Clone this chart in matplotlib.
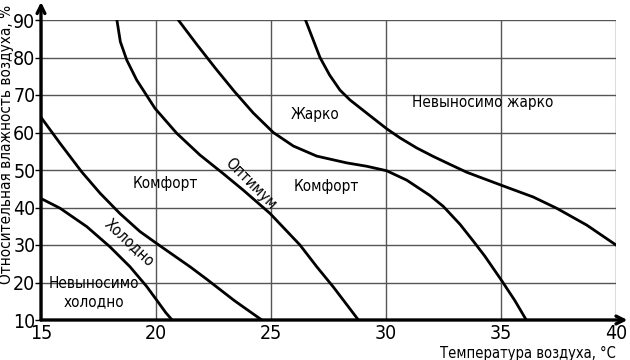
import matplotlib
matplotlib.use('Agg')
import matplotlib.pyplot as plt

plt.rcParams['font.family'] = ['DejaVu Sans']
plt.rcParams['font.stretch'] = 'condensed'

# border "unbearable cold" / "cold"
cold1_t = [15, 15.83, 16.99, 18.0, 18.87, 19.6, 20.03, 20.42, 20.7]
cold1_h = [42.4, 39.8, 34.9, 29.5, 24.2, 18.9, 15.3, 12.0, 10]

# border "cold" / "comfort"
cold2_t = [15.03, 15.83, 16.77, 17.57, 18.43, 19.3, 20.03, 21.48, 22.2, 23.4, 24.6]
cold2_h = [63.8, 57.1, 49.5, 43.8, 38.4, 33.6, 30.4, 24.2, 20.9, 15.2, 10]

# optimum line
opt_t = [18.3, 18.45, 18.73, 19.16, 19.96, 20.9, 21.91, 22.93, 23.8, 24.96,
         26.26, 26.99, 27.71, 28.43, 28.8]
opt_h = [90, 84.2, 79.3, 74, 66.4, 59.8, 54, 49.0, 44.6, 38.4,
         30, 24.2, 18.8, 13.0, 10]

# border "comfort" / "hot"
hot1_t = [20.97, 21.77, 22.6, 23.4, 24.23, 25.1, 25.97, 26.99, 28.29, 29.16,
          30.03, 30.9, 31.91, 32.49, 33.22, 33.8, 34.3, 35.03, 35.6, 36.1]
hot1_h = [90, 83.5, 77, 71, 65.2, 60, 56.4, 53.7, 51.9, 51.0,
          49.8, 47.3, 43.2, 40.3, 35.5, 31, 27, 20.5, 15.2, 10]

# border "hot" / "unbearable hot"
hot2_t = [26.5, 27.13, 27.55, 28.0, 28.43, 29.3, 30.03, 30.6, 31.33, 32.06, 32.78,
          33.51, 35.03, 36.4, 37.42, 38.73, 40]
hot2_h = [90, 80, 75.3, 71.3, 68.7, 64.5, 61.0, 58.6, 55.9, 53.6, 51.5,
          49.4, 45.9, 42.8, 39.8, 35.3, 30]

curves = [(cold1_t, cold1_h), (cold2_t, cold2_h), (opt_t, opt_h),
          (hot1_t, hot1_h), (hot2_t, hot2_h)]

x_ticks = [15, 20, 25, 30, 35, 40]
y_ticks = [10, 20, 30, 40, 50, 60, 70, 80, 90]

fig = plt.figure(figsize=(6.3, 3.6), dpi=100)
ax = fig.add_axes([41/630, 40/360, 575/630, 300/360])

for t, h in curves:
    ax.plot(t, h, color='black', lw=2.0, solid_joinstyle='round')

ax.set_xlim(15, 40)
ax.set_ylim(10, 90)
ax.set_xticks(x_ticks)
ax.set_yticks(y_ticks)
ax.grid(True, color='#555555', lw=1.0)
ax.set_axisbelow(True)
for s in ax.spines.values():
    s.set_visible(False)
ax.tick_params(axis='x', length=0, pad=3, labelsize=14)
ax.tick_params(axis='y', length=4, width=1, pad=0, labelsize=14)

# axes with arrows
ax.annotate('', xy=(15, 94.8), xytext=(15, 10), annotation_clip=False,
            arrowprops=dict(arrowstyle='->', lw=2.4, color='black',
                            shrinkA=0, shrinkB=0, mutation_scale=14))
ax.annotate('', xy=(40.5, 10), xytext=(15, 10), annotation_clip=False,
            arrowprops=dict(arrowstyle='->', lw=2.4, color='black',
                            shrinkA=0, shrinkB=0, mutation_scale=14))

fig.text(7/630, 1 - 144/360, 'Относительная влажность воздуха, %', rotation=90,
         ha='center', va='center', fontsize=11)
fig.text(616/630, 1 - 353/360, 'Температура воздуха, °C', ha='right', va='center',
         fontsize=10.5)

fs = 11
ax.text(34.2, 67.9, 'Невыносимо жарко', ha='center', va='center', fontsize=fs)
ax.text(26.9, 64.7, 'Жарко', ha='center', va='center', fontsize=fs)
ax.text(20.4, 46.5, 'Комфорт', ha='center', va='center', fontsize=fs)
ax.text(27.4, 45.5, 'Комфорт', ha='center', va='center', fontsize=fs)
ax.text(24.1, 46.2, 'Оптимум', ha='center', va='center', fontsize=fs, rotation=-45,
        rotation_mode='anchor')
ax.text(18.83, 30.7, 'Холодно', ha='center', va='center', fontsize=fs, rotation=-43,
        rotation_mode='anchor')
ax.text(17.3, 17.2, 'Невыносимо\nхолодно', ha='center', va='center', fontsize=fs,
        linespacing=1.25)

fig.savefig('out.png', dpi=100)
